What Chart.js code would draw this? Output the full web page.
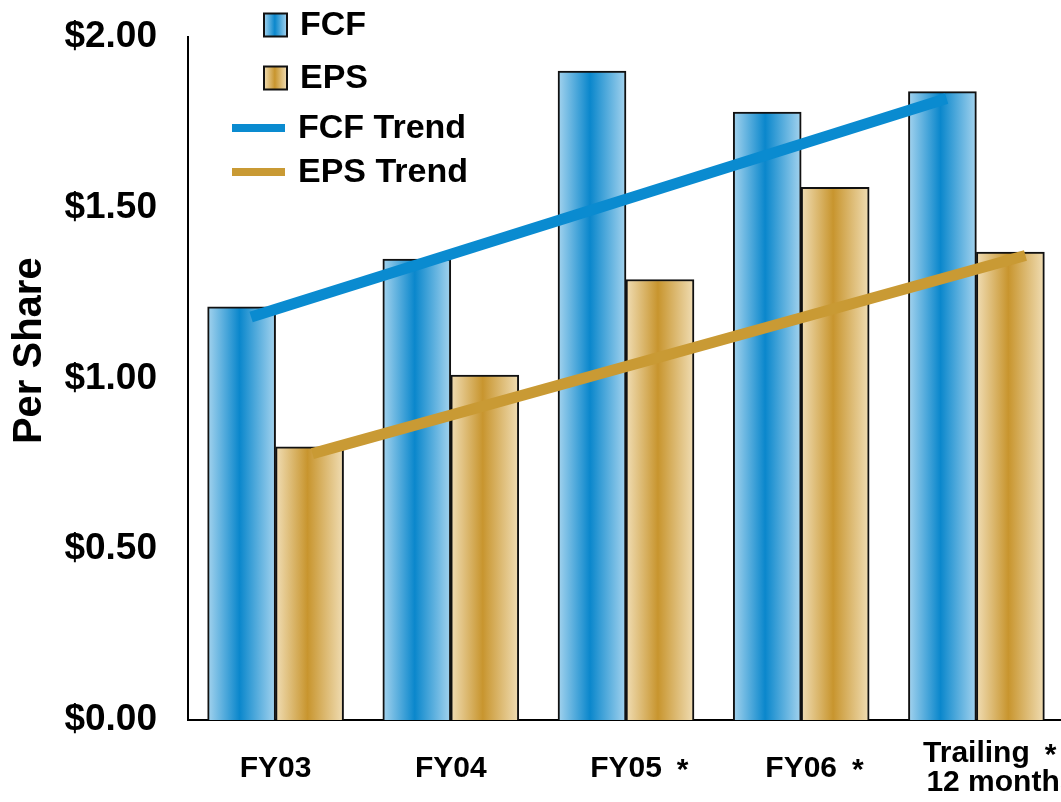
<!DOCTYPE html>
<html>
<head>
<meta charset="utf-8">
<script src="https://cdn.jsdelivr.net/npm/chart.js@4.4.0/dist/chart.umd.min.js"></script>
<style>
  html, body { margin: 0; padding: 0; background: #fff; overflow: hidden; }
  canvas { display: block; }
</style>
</head>
<body>
<canvas id="c" width="1064" height="802"></canvas>
<script>
// Per-share figures by fiscal period
const categories = ['FY03', 'FY04', 'FY05', 'FY06', ['Trailing', '      12 months']];
const footnoted = [false, false, true, true, true];
const fcfPerShare = [1.21, 1.35, 1.90, 1.78, 1.84];
const epsPerShare = [0.80, 1.01, 1.29, 1.56, 1.37];
// Trend line end points (x in category units, y in $ per share)
const fcfTrendX = [-0.14, 3.83];
const fcfTrendY = [1.18, 1.82];
const epsTrendX = [0.21, 4.28];
const epsTrendY = [0.78, 1.36];
const yTickValues = [0, 0.5, 1, 1.5, 2];

const FONT = "'Liberation Sans', Arial, Helvetica, sans-serif";
const fcfShade = { edge: '#a4d3ee', mid: '#0a87cc' };
const epsShade = { edge: '#f0ddb4', mid: '#c8952e' };
// Each bar sits this far (in category units) either side of its category centre
const HALF_BAR = 0.194;

function shade(g2d, x0, x1, s) {
  const g = g2d.createLinearGradient(x0, 0, x1, 0);
  g.addColorStop(0, s.edge);
  g.addColorStop(0.47, s.mid);
  g.addColorStop(1, s.edge);
  return g;
}

// Horizontal shading across each bar, computed from the x scale
function barShade(s, shift) {
  return (c) => {
    const xs = c.chart.scales.x;
    if (!xs || c.dataIndex === undefined || !xs.width) return s.mid;
    const centre = xs.getPixelForValue(c.dataIndex + shift);
    const half = xs.getPixelForValue(HALF_BAR) - xs.getPixelForValue(0);
    return shade(c.chart.ctx, centre - half, centre + half, s);
  };
}

// Keep the plot area edges fixed instead of padding for overhanging labels
function noEdgePadding(s) {
  s.paddingTop = 0;
  s.paddingBottom = 0;
  s.paddingLeft = 0;
  s.paddingRight = 0;
}

// Legend drawn over the upper-left of the plot
const legendPlugin = {
  id: 'sideLegend',
  afterDraw(chart) {
    const g = chart.ctx;
    g.save();
    g.font = `bold 34px ${FONT}`;
    g.textBaseline = 'middle';
    const boxes = [
      { label: 'FCF', s: fcfShade, y: 25 },
      { label: 'EPS', s: epsShade, y: 78 }
    ];
    boxes.forEach(b => {
      const x0 = 264, sz = 23;
      g.fillStyle = shade(g, x0, x0 + sz, b.s);
      g.fillRect(x0, b.y - sz / 2, sz, sz);
      g.lineWidth = 2;
      g.strokeStyle = '#111';
      g.strokeRect(x0, b.y - sz / 2, sz, sz);
      g.fillStyle = '#000';
      g.fillText(b.label, 300, b.y + 1);
    });
    const lines = [
      { label: 'FCF Trend', color: chart.data.datasets[2].borderColor, y: 128 },
      { label: 'EPS Trend', color: chart.data.datasets[3].borderColor, y: 172 }
    ];
    lines.forEach(l => {
      g.strokeStyle = l.color;
      g.lineWidth = 8;
      g.beginPath();
      g.moveTo(232, l.y);
      g.lineTo(285, l.y);
      g.stroke();
      g.fillStyle = '#000';
      g.fillText(l.label, 298, l.y + 1);
    });
    g.restore();
  }
};

// Footnote asterisks after flagged category labels
const footnotePlugin = {
  id: 'footnotes',
  afterDraw(chart) {
    const xs = chart.scales.x;
    const items = xs.getLabelItems ? xs.getLabelItems(chart.chartArea) : [];
    const g = chart.ctx;
    g.save();
    g.font = `bold 30px ${FONT}`;
    g.fillStyle = '#000';
    g.textAlign = 'left';
    g.textBaseline = 'middle';
    items.forEach((it, i) => {
      if (!footnoted[i]) return;
      const first = Array.isArray(it.label) ? it.label[0] : it.label;
      const w = g.measureText(first).width;
      const [tx, ty] = it.options.translation;
      g.fillText('*', tx + w / 2 + 15, ty + it.textOffset + 2);
    });
    g.restore();
  }
};

new Chart(document.getElementById('c'), {
  type: 'bar',
  data: {
    datasets: [
      {
        label: 'FCF',
        data: fcfPerShare.map((y, i) => ({ x: i - HALF_BAR, y })),
        backgroundColor: barShade(fcfShade, -HALF_BAR),
        borderColor: '#111',
        borderWidth: 2,
        grouped: false,
        categoryPercentage: 1,
        barPercentage: 1,
        order: 2
      },
      {
        label: 'EPS',
        data: epsPerShare.map((y, i) => ({ x: i + HALF_BAR, y })),
        backgroundColor: barShade(epsShade, HALF_BAR),
        borderColor: '#111',
        borderWidth: 2,
        grouped: false,
        categoryPercentage: 1,
        barPercentage: 1,
        order: 2
      },
      {
        type: 'line',
        label: 'FCF Trend',
        data: fcfTrendX.map((x, i) => ({ x, y: fcfTrendY[i] })),
        borderColor: '#0a8bd0',
        borderWidth: 11,
        borderCapStyle: 'butt',
        pointRadius: 0,
        fill: false,
        order: 0
      },
      {
        type: 'line',
        label: 'EPS Trend',
        data: epsTrendX.map((x, i) => ({ x, y: epsTrendY[i] })),
        borderColor: '#c99a34',
        borderWidth: 11,
        borderCapStyle: 'butt',
        pointRadius: 0,
        fill: false,
        order: 1
      }
    ]
  },
  options: {
    responsive: false,
    animation: false,
    layout: { autoPadding: false, padding: { top: 37, left: 0, right: 0, bottom: 0 } },
    plugins: {
      legend: { display: false },
      tooltip: { enabled: false }
    },
    scales: {
      x: {
        type: 'linear',
        min: -0.5,
        max: 4.5,
        offset: false,
        grid: { display: false, drawTicks: false },
        border: { display: true, color: '#000', width: 2 },
        afterBuildTicks(s) { s.ticks = categories.map((_, i) => ({ value: i })); },
        ticks: {
          color: '#000',
          font: { family: FONT, size: 30, weight: 'bold', lineHeight: 0.95 },
          padding: 34,
          crossAlign: 'center',
          maxRotation: 0,
          autoSkip: false,
          callback: (v) => categories[v]
        },
        afterFit(s) { s.height = 82; noEdgePadding(s); }
      },
      y: {
        min: 0,
        max: 2,
        grid: { display: false, drawTicks: false },
        border: { display: true, color: '#000', width: 2 },
        afterBuildTicks(s) { s.ticks = yTickValues.map(v => ({ value: v })); },
        ticks: {
          color: '#000',
          padding: 31,
          font: { family: FONT, size: 37, weight: 'bold' },
          callback: v => '$' + Number(v).toFixed(2)
        },
        title: {
          display: true,
          text: '     Per Share',
          color: '#000',
          font: { family: FONT, size: 40, weight: 'bold' },
          padding: { top: 6, bottom: 0 }
        },
        afterFit(s) { s.width = 188; noEdgePadding(s); }
      }
    }
  },
  plugins: [legendPlugin, footnotePlugin]
});
</script>
</body>
</html>
